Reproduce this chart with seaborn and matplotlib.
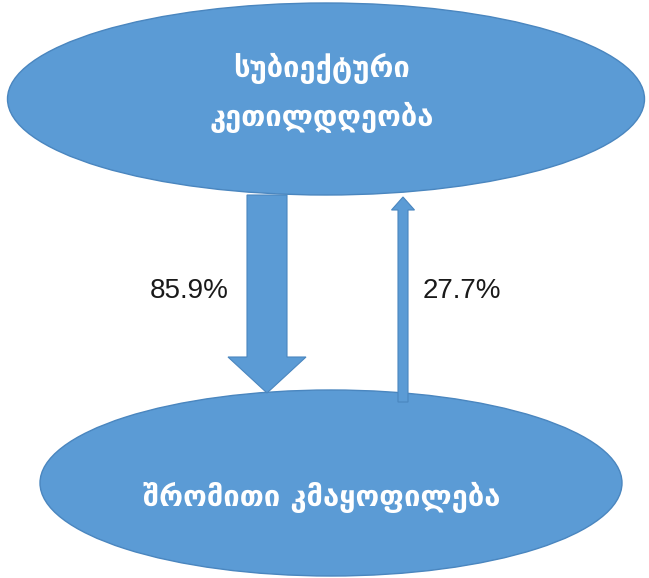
import matplotlib
matplotlib.use('Agg')
import matplotlib.pyplot as plt
from matplotlib.patches import Ellipse, FancyArrow
import seaborn as sns

sns.set_theme(style="white")
plt.rcParams['font.family'] = ['DejaVu Sans']

# Diagram content
node_labels = ["სუბიექტური\nკეთილდღეობა", "შრომითი კმაყოფილება"]
path_labels = ["85.9%", "27.7%"]
path_values = [85.9, 27.7]

fill = "#5B9BD5"
edge = "#4A86BF"

fig = plt.figure(figsize=(6.49, 5.78), dpi=100)
ax = fig.add_axes([0, 0, 1, 1])
ax.set_xlim(0, 649)
ax.set_ylim(578, 0)
ax.axis('off')

# nodes: top ellipse and bottom ellipse
ax.add_patch(Ellipse((326, 99), 637, 192, facecolor=fill, edgecolor=edge, lw=1))
ax.add_patch(Ellipse((331, 483), 582, 186, facecolor=fill, edgecolor=edge, lw=1))

ax.text(322, 93, node_labels[0], color="white", fontsize=21, fontweight="bold",
        ha="center", va="center", linespacing=1.75)
ax.text(322, 497, node_labels[1], color="white", fontsize=21, fontweight="bold",
        ha="center", va="center")

# arrows: width follows the value
down = FancyArrow(267, 195, 0, 198, width=40, head_width=78, head_length=36,
                  length_includes_head=True, facecolor=fill, edgecolor=edge, lw=0.8)
up = FancyArrow(403, 402, 0, -205, width=10, head_width=23, head_length=13,
                length_includes_head=True, facecolor=fill, edgecolor=edge, lw=0.8)
ax.add_patch(down)
ax.add_patch(up)

ax.text(189, 291, path_labels[0], fontsize=20, family="Liberation Sans",
        ha="center", va="center", color="#1a1a1a")
ax.text(462, 291, path_labels[1], fontsize=20, family="Liberation Sans",
        ha="center", va="center", color="#1a1a1a")

fig.savefig("out.png", dpi=100, facecolor="white")
plt.close(fig)
